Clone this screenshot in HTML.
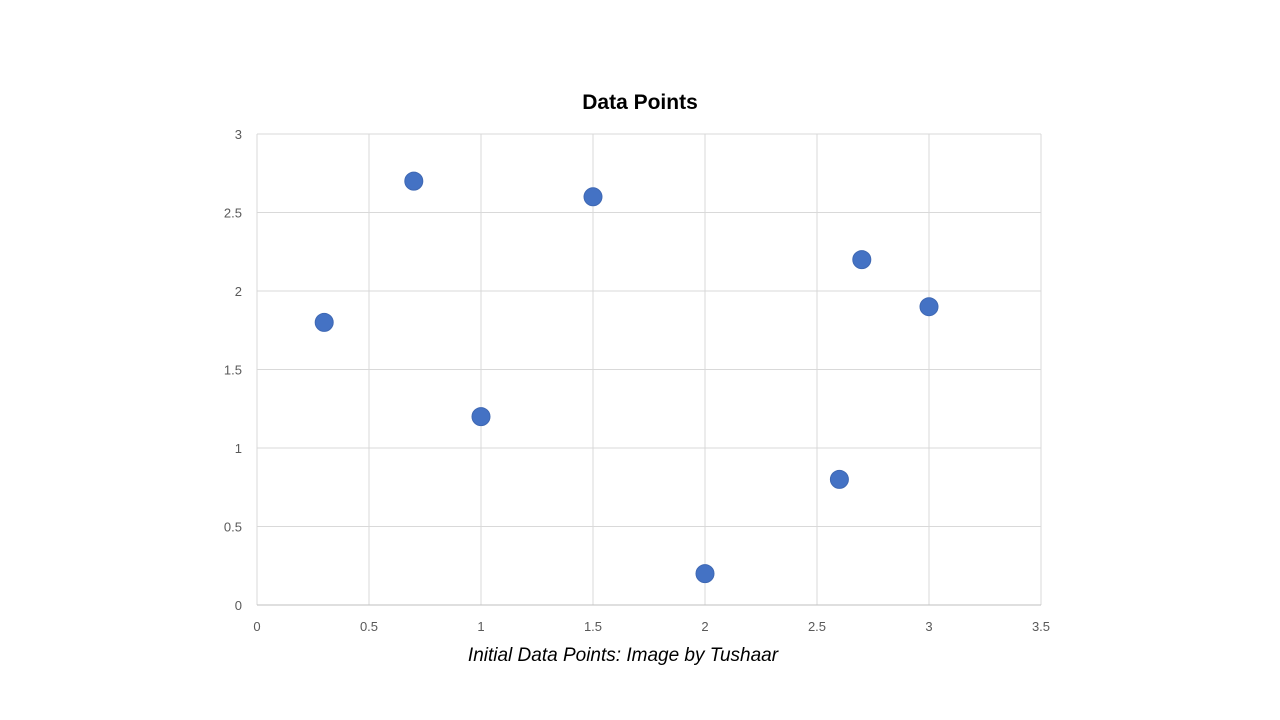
<!DOCTYPE html>
<html><head><meta charset="utf-8"><style>
body{margin:0;background:#fff;width:1280px;height:720px;overflow:hidden;font-family:"Liberation Sans","DejaVu Sans",sans-serif}
svg{position:absolute;left:0;top:0}
</style></head><body>
<svg width="1280" height="720">
<text x="640" y="109" text-anchor="middle" font-size="21" font-weight="bold" fill="#000">Data Points</text>
<g id="grid"></g>
<g id="ticks"></g>
<g id="pts"></g>
<text x="623" y="661" text-anchor="middle" font-size="19" font-style="italic" fill="#000">Initial Data Points: Image by Tushaar</text>
</svg>
<script>
const xs=[0.3,0.7,1,1.5,2,2.6,2.7,3];
const ys=[1.8,2.7,1.2,2.6,0.2,0.8,2.2,1.9];
const xTicks=[0,0.5,1,1.5,2,2.5,3,3.5];
const yTicks=[0,0.5,1,1.5,2,2.5,3];
const X0=257,X1=1041,Y0=605,Y1=134;
const sx=v=>X0+(v/3.5)*(X1-X0), sy=v=>Y0-(v/3)*(Y0-Y1);
const NS="http://www.w3.org/2000/svg";
function mk(t,a,p){const e=document.createElementNS(NS,t);for(const k in a)e.setAttribute(k,a[k]);p.appendChild(e);return e;}
const g=document.getElementById('grid'),tk=document.getElementById('ticks'),pg=document.getElementById('pts');
xTicks.forEach(v=>{const l=mk('line',{x1:sx(v),x2:sx(v),y1:Y1,y2:Y0,stroke:'#d9d9d9','stroke-width':1},g);


const t=mk('text',{x:sx(v),y:Y0+26,'text-anchor':'middle','font-size':13,fill:'#595959'},tk);t.textContent=v;

});
yTicks.forEach(v=>{const l=mk('line',{x1:X0,x2:X1,y1:sy(v),y2:sy(v),stroke:v===0?'#bfbfbf':'#d9d9d9','stroke-width':1},g);


const t=mk('text',{x:X0-15,y:sy(v)+5,'text-anchor':'end','font-size':13,fill:'#595959'},tk);t.textContent=v;

});
xs.forEach((x,i)=>{const c=mk('circle',{cx:sx(x),cy:sy(ys[i]),r:9,fill:'#4472C4',stroke:'#3f68b3','stroke-width':1},pg);

});
</script>
</body></html>
